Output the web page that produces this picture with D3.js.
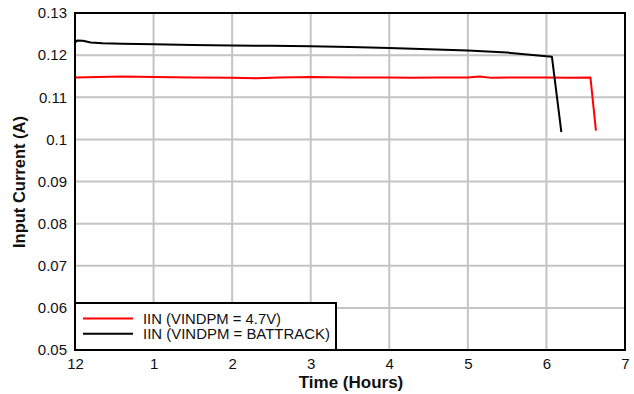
<!DOCTYPE html>
<html><head><meta charset="utf-8">
<script src="https://cdn.jsdelivr.net/npm/d3@7"></script>
<style>body{margin:0;background:#fff;}svg{display:block;font-family:"Liberation Sans",Arial,sans-serif;}</style>
</head><body><svg id="c" width="634" height="394"></svg>
<script>
const xTickValues = [0,1,2,3,4,5,6,7];
const xTickLabels = ["12","1","2","3","4","5","6","7"];
const yTickValues = [0.05,0.06,0.07,0.08,0.09,0.1,0.11,0.12,0.13];
const yTickLabels = ["0.05","0.06","0.07","0.08","0.09","0.1","0.11","0.12","0.13"];
const seriesNames = ["IIN (VINDPM = 4.7V)","IIN (VINDPM = BATTRACK)"];
const redHours = [0,0.3,0.6,1,1.5,2,2.3,2.6,3,3.5,4,4.3,4.6,5,5.15,5.3,5.6,6,6.3,6.56,6.63];
const redValues = [0.1147,0.1148,0.1149,0.1148,0.1147,0.1146,0.1145,0.1147,0.1148,0.1147,0.1147,0.1146,0.1147,0.1147,0.1149,0.1146,0.1147,0.1147,0.1146,0.1147,0.1021];
const blackHours = [0,0.03,0.1,0.2,0.35,0.6,1,1.5,2,2.5,3,3.5,4,4.5,5,5.5,6.07,6.19];
const blackValues = [0.1229,0.1235,0.1234,0.1230,0.1228,0.1227,0.1226,0.1224,0.1223,0.1222,0.1221,0.1219,0.1217,0.1214,0.1211,0.1206,0.1196,0.1017];

const svg = d3.select("#c");
const L=75,R=625,T=13,B=350;
const x = d3.scaleLinear().domain([0,7]).range([L,R]);
const y = d3.scaleLinear().domain([0.05,0.13]).range([B,T]);

// grid
svg.append("g").selectAll("line").data(xTickValues.slice(1,-1)).join("line")
 .attr("x1",d=>x(d)).attr("x2",d=>x(d)).attr("y1",T).attr("y2",B)
 .attr("stroke","#c4c4c4").attr("stroke-width",2);
svg.append("g").selectAll("line").data(yTickValues.slice(1,-1)).join("line")
 .attr("y1",d=>y(d)).attr("y2",d=>y(d)).attr("x1",L).attr("x2",R)
 .attr("stroke","#c4c4c4").attr("stroke-width",2);

// axes
const xAxis = d3.axisBottom(x).tickValues(xTickValues).tickFormat((d,i)=>xTickLabels[i]).tickSize(0).tickPadding(8);
const gx = svg.append("g").attr("transform",`translate(0,${B})`).call(xAxis);
gx.select(".domain").remove();
gx.selectAll("text").attr("font-size",15).attr("fill","#111").attr("font-family","Liberation Sans, Arial, sans-serif");
const yAxis = d3.axisLeft(y).tickValues(yTickValues).tickFormat((d,i)=>yTickLabels[i]).tickSize(0).tickPadding(8);
const gy = svg.append("g").attr("transform",`translate(${L},0)`).call(yAxis);
gy.select(".domain").remove();
gy.selectAll("text").attr("font-size",15).attr("fill","#111").attr("font-family","Liberation Sans, Arial, sans-serif");

// lines
const lineLin = d3.line().x(d=>x(d[0])).y(d=>y(d[1]));
const redData = redHours.map((h,i)=>[h,redValues[i]]);
const blackData = blackHours.map((h,i)=>[h,blackValues[i]]);
svg.append("path").attr("d",lineLin(redData)).attr("fill","none").attr("stroke","#ff0000").attr("stroke-width",2).attr("stroke-linejoin","round");
svg.append("path").attr("d",lineLin(blackData)).attr("fill","none").attr("stroke","#000").attr("stroke-width",2).attr("stroke-linejoin","round");

// frame
svg.append("rect").attr("x",L).attr("y",T).attr("width",R-L).attr("height",B-T)
 .attr("fill","none").attr("stroke","#000").attr("stroke-width",2);

// legend
const lg = svg.append("g");
lg.append("rect").attr("x",L).attr("y",303).attr("width",261).attr("height",B-303)
 .attr("fill","#fff").attr("stroke","#000").attr("stroke-width",2);
const colors=["#ff0000","#000"];
const legendWidths=[138,187];
seriesNames.forEach((n,i)=>{
  const yy = 318.5 + i*15.3;
  lg.append("line").attr("x1",83).attr("x2",133).attr("y1",yy).attr("y2",yy).attr("stroke",colors[i]).attr("stroke-width",2);
  lg.append("text").attr("x",143).attr("y",yy+5.3).attr("font-size",14).attr("fill","#111")
    .attr("textLength",legendWidths[i]).attr("lengthAdjust","spacingAndGlyphs").text(n);
});

// axis titles
svg.append("text").attr("x",351).attr("y",388).attr("text-anchor","middle").attr("font-size",17).attr("font-weight","bold").attr("fill","#111").text("Time (Hours)");
svg.append("text").attr("transform","translate(25,182) rotate(-90)").attr("text-anchor","middle").attr("font-size",16.5).attr("font-weight","bold").attr("fill","#111").text("Input Current (A)");
</script></body></html>
